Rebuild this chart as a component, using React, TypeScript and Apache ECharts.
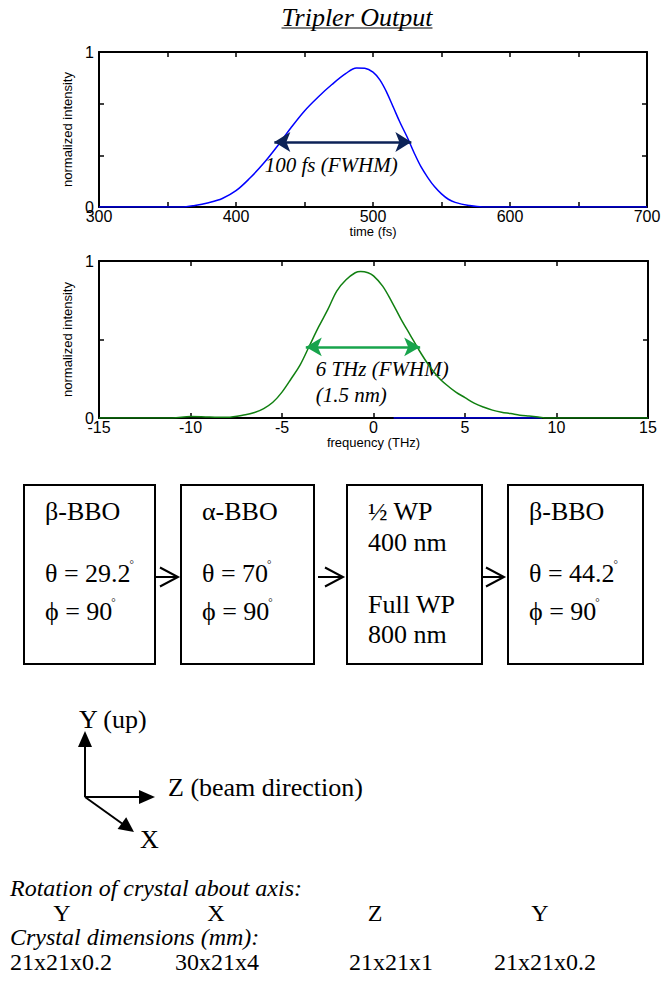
import React, { useEffect, useRef } from "react";
import * as echarts from "echarts";

// ---- data ----
const timeFs = [300, 360, 370, 380, 390, 400, 410, 420, 430, 440, 450, 460, 470, 480, 488, 494, 500, 505, 510, 515, 520, 525, 530, 535, 540, 545, 550, 555, 560, 570, 580, 700];
const timeIntensity = [0, 0, 0.01, 0.028, 0.055, 0.105, 0.185, 0.28, 0.39, 0.51, 0.62, 0.71, 0.79, 0.86, 0.897, 0.895, 0.87, 0.82, 0.74, 0.64, 0.54, 0.45, 0.35, 0.26, 0.19, 0.13, 0.085, 0.05, 0.03, 0.01, 0, 0];

const freqTHz = [-15, -11, -10, -9, -8, -7, -6.5, -6, -5.5, -5, -4.5, -4, -3.5, -3, -2.5, -2, -1.5, -1, -0.7, -0.3, 0, 0.5, 1, 1.5, 2, 2.5, 3, 3.5, 4, 4.5, 5, 5.5, 6, 6.5, 7, 7.5, 8, 8.5, 9, 9.5, 15];
const freqIntensity = [0, 0, 0.01, 0.006, 0.004, 0.02, 0.035, 0.06, 0.1, 0.165, 0.25, 0.34, 0.46, 0.58, 0.69, 0.81, 0.88, 0.925, 0.933, 0.925, 0.905, 0.84, 0.74, 0.63, 0.53, 0.43, 0.34, 0.265, 0.21, 0.165, 0.13, 0.095, 0.07, 0.05, 0.037, 0.028, 0.018, 0.012, 0.006, 0, 0];

const flatFreq = [1.1, 9.2];
const flatIntensity = [0, 0];

const timeArrow = [428, 528];
const timeArrowLevel = 0.42;
const freqArrow = [-3.7, 2.55];
const freqArrowLevel = 0.453;

const timeNote = "100 fs (FWHM)";
const freqNote1 = "6 THz (FWHM)";
const freqNote2 = "(1.5 nm)";

const boxTexts = [
  ["β-BBO", "", "θ = 29.2°", "ϕ = 90°"],
  ["α-BBO", "", "θ = 70°", "ϕ = 90°"],
  ["½ WP", "400 nm", "Full WP", "800 nm"],
  ["β-BBO", "", "θ = 44.2°", "ϕ = 90°"],
];
const rotationAxes = ["Y", "X", "Z", "Y"];
const dimensions = ["21x21x0.2", "30x21x4", "21x21x1", "21x21x0.2"];

const SERIF = '"Liberation Serif", "Times New Roman", serif';
const SANS = '"Liberation Sans", Arial, sans-serif';

function zip(xs: number[], ys: number[]) {
  return xs.map((x, i) => [x, ys[i]]);
}

function frameAxis(gridIndex: number, min: number, max: number, interval: number, pos: string, labels: boolean, fmt?: (v: number) => string, name?: string) {
  return {
    type: "value",
    gridIndex,
    min,
    max,
    interval,
    position: pos,
    axisLine: { show: true, onZero: false, lineStyle: { color: "#000", width: 2 } },
    axisTick: { show: true, inside: true, length: 5, lineStyle: { color: "#000", width: 1.5 } },
    axisLabel: {
      show: labels,
      formatter: fmt,
      color: "#000",
      fontFamily: SANS,
      fontSize: 16,
      margin: pos === "bottom" ? 1 : 5,
      showMinLabel: true,
      showMaxLabel: true,
    },
    splitLine: { show: false },
    name: name || "",
    nameLocation: "middle",
    nameGap: pos === "bottom" ? 14 : 25,
    nameTextStyle: { color: "#000", fontFamily: SANS, fontSize: 13 },
  };
}

const yFmt = (v: number) => (Math.abs(v) < 1e-9 ? "0" : Math.abs(v - 1) < 1e-9 ? "1" : "");

export default function App() {
  const ref = useRef<HTMLDivElement>(null);
  useEffect(() => {
    if (!ref.current) return;
    const chart = echarts.init(ref.current, undefined, { renderer: "svg" });
    const option: any = {
      animation: false,
      backgroundColor: "#fff",
      grid: [
        { left: 99, top: 52, width: 548, height: 155, containLabel: false },
        { left: 99, top: 261, width: 549, height: 157, containLabel: false },
      ],
      xAxis: [
        frameAxis(0, 300, 700, 50, "bottom", true, (v: number) => (v % 100 === 0 ? String(v) : ""), "time (fs)"),
        frameAxis(0, 300, 700, 50, "top", false),
        frameAxis(1, -15, 15, 5, "bottom", true, (v: number) => String(v), "frequency (THz)"),
        frameAxis(1, -15, 15, 5, "top", false),
      ],
      yAxis: [
        frameAxis(0, 0, 1, 1 / 3, "left", true, yFmt, "normalized intensity"),
        frameAxis(0, 0, 1, 1 / 3, "right", false),
        frameAxis(1, 0, 1, 0.5, "left", true, yFmt, "normalized intensity"),
        frameAxis(1, 0, 1, 0.5, "right", false),
      ],
      series: [
        {
          type: "line",
          xAxisIndex: 0,
          yAxisIndex: 0,
          data: zip(timeFs, timeIntensity),
          showSymbol: false,
          smooth: 0.35,
          lineStyle: { color: "#0000ff", width: 1.5 },
          markLine: {
            silent: true,
            symbol: ["arrow", "arrow"],
            symbolSize: [15, 16],
            label: { show: false },
            lineStyle: { color: "#0c2257", width: 2.5, type: "solid" },
            data: [[{ coord: [timeArrow[0], timeArrowLevel] }, { coord: [timeArrow[1], timeArrowLevel] }]],
          },
        },
        {
          type: "line",
          xAxisIndex: 2,
          yAxisIndex: 2,
          data: zip(flatFreq, flatIntensity),
          showSymbol: false,
          lineStyle: { color: "#0000ff", width: 1.5 },
        },
        {
          type: "line",
          xAxisIndex: 2,
          yAxisIndex: 2,
          data: zip(freqTHz, freqIntensity),
          showSymbol: false,
          smooth: 0.35,
          lineStyle: { color: "#118011", width: 1.5 },
          markLine: {
            silent: true,
            symbol: ["arrow", "arrow"],
            symbolSize: [14, 16],
            label: { show: false },
            lineStyle: { color: "#18a44c", width: 2.5, type: "solid" },
            data: [[{ coord: [freqArrow[0], freqArrowLevel] }, { coord: [freqArrow[1], freqArrowLevel] }]],
          },
        },
      ],
    };
    chart.setOption(option);

    const tp = chart.convertToPixel({ seriesIndex: 0 }, [421, 0.27]) as number[];
    const fp1 = chart.convertToPixel({ seriesIndex: 2 }, [-3.16, 0.31]) as number[];
    const fp2 = chart.convertToPixel({ seriesIndex: 2 }, [-3.16, 0.147]) as number[];

    const ctx = document.createElement("canvas").getContext("2d")!;
    const measure = (t: string, font: string) => {
      ctx.font = font;
      return ctx.measureText(t).width;
    };
    const titleW = measure("Tripler Output", `italic 26px ${SERIF}`);
    const titleX = 357;

    const g: any[] = [];
    const txt = (text: string, x: number, y: number, size: number, opts: any = {}) =>
      g.push({
        type: "text",
        x,
        y,
        silent: true,
        style: {
          text,
          fill: "#000",
          font: `${opts.italic ? "italic " : ""}${size}px ${opts.family || SERIF}`,
          align: opts.align || "left",
          verticalAlign: "middle",
        },
      });

    // title
    txt("Tripler Output", titleX, 17, 26, { italic: true, align: "center" });
    g.push({ type: "line", shape: { x1: titleX - titleW / 2, y1: 28, x2: titleX + titleW / 2, y2: 28 }, style: { stroke: "#000", lineWidth: 1.2 } });

    // annotations
    txt(timeNote, tp[0], tp[1], 21, { italic: true });
    txt(freqNote1, fp1[0], fp1[1], 21, { italic: true });
    txt(freqNote2, fp2[0], fp2[1], 21, { italic: true });

    // boxes
    const boxX = [24, 181, 347, 508];
    const boxW = [131, 133, 135, 135];
    const lineY = [511, 542, 573, 611];
    const lineY3 = [511, 542, 604, 634];
    boxX.forEach((bx, i) => {
      g.push({ type: "rect", shape: { x: bx, y: 485, width: boxW[i], height: 179 }, style: { fill: "#fff", stroke: "#000", lineWidth: 2 } });
      const ys = i === 2 ? lineY3 : lineY;
      boxTexts[i].forEach((t, j) => {
        if (!t) return;
        if (t.endsWith("°")) {
          const main = t.slice(0, -1);
          txt(main, bx + 21, ys[j], 26);
          const w = measure(main, `26px ${SERIF}`);
          txt("°", bx + 21 + w - 1, ys[j] - 9, 11);
        } else {
          txt(t, bx + 21, ys[j], 26);
        }
      });
    });
    // arrows between boxes
    const arrowSeg = [
      [155, 178],
      [318, 343],
      [482, 504],
    ];
    arrowSeg.forEach(([a, b]) => {
      g.push({ type: "line", shape: { x1: a, y1: 577, x2: b, y2: 577 }, style: { stroke: "#000", lineWidth: 2 } });
      g.push({ type: "polyline", shape: { points: [[b - 18, 567.5], [b, 577], [b - 18, 586.5]] }, style: { stroke: "#000", lineWidth: 2, fill: "none" } });
    });

    // coordinate axes diagram
    const ox = 85, oy = 797;
    g.push({ type: "line", shape: { x1: ox, y1: oy, x2: ox, y2: 745 }, style: { stroke: "#000", lineWidth: 2 } });
    g.push({ type: "polygon", shape: { points: [[ox, 731], [ox - 7, 747], [ox + 7, 747]] }, style: { fill: "#000" } });
    g.push({ type: "line", shape: { x1: ox, y1: oy, x2: 141, y2: oy }, style: { stroke: "#000", lineWidth: 2 } });
    g.push({ type: "polygon", shape: { points: [[155, oy], [139, oy - 7], [139, oy + 7]] }, style: { fill: "#000" } });
    g.push({ type: "line", shape: { x1: ox, y1: oy, x2: 122, y2: 823.5 }, style: { stroke: "#000", lineWidth: 2 } });
    g.push({ type: "polygon", shape: { points: [[134, 832], [117.6, 829], [126.2, 817.2]] }, style: { fill: "#000" } });
    txt("Y (up)", 79, 719, 26);
    txt("Z (beam direction)", 168, 787, 26);
    txt("X", 140, 839, 26);

    // bottom text
    const fs = 24;
    txt("Rotation of crystal about axis:", 10, 888, fs, { italic: true });
    const rotX = [62, 216, 375, 540];
    rotationAxes.forEach((t, i) => txt(t, rotX[i], 912.5, fs, { align: "center" }));
    txt("Crystal dimensions (mm):", 10, 937, fs, { italic: true });
    const dimX = [10, 175, 349, 494];
    dimensions.forEach((t, i) => txt(t, dimX[i], 961.5, fs));

    chart.setOption({ graphic: g });
    return () => chart.dispose();
  }, []);
  return <div ref={ref} style={{ position: "absolute", left: 0, top: 0, width: 665, height: 997 }} />;
}
